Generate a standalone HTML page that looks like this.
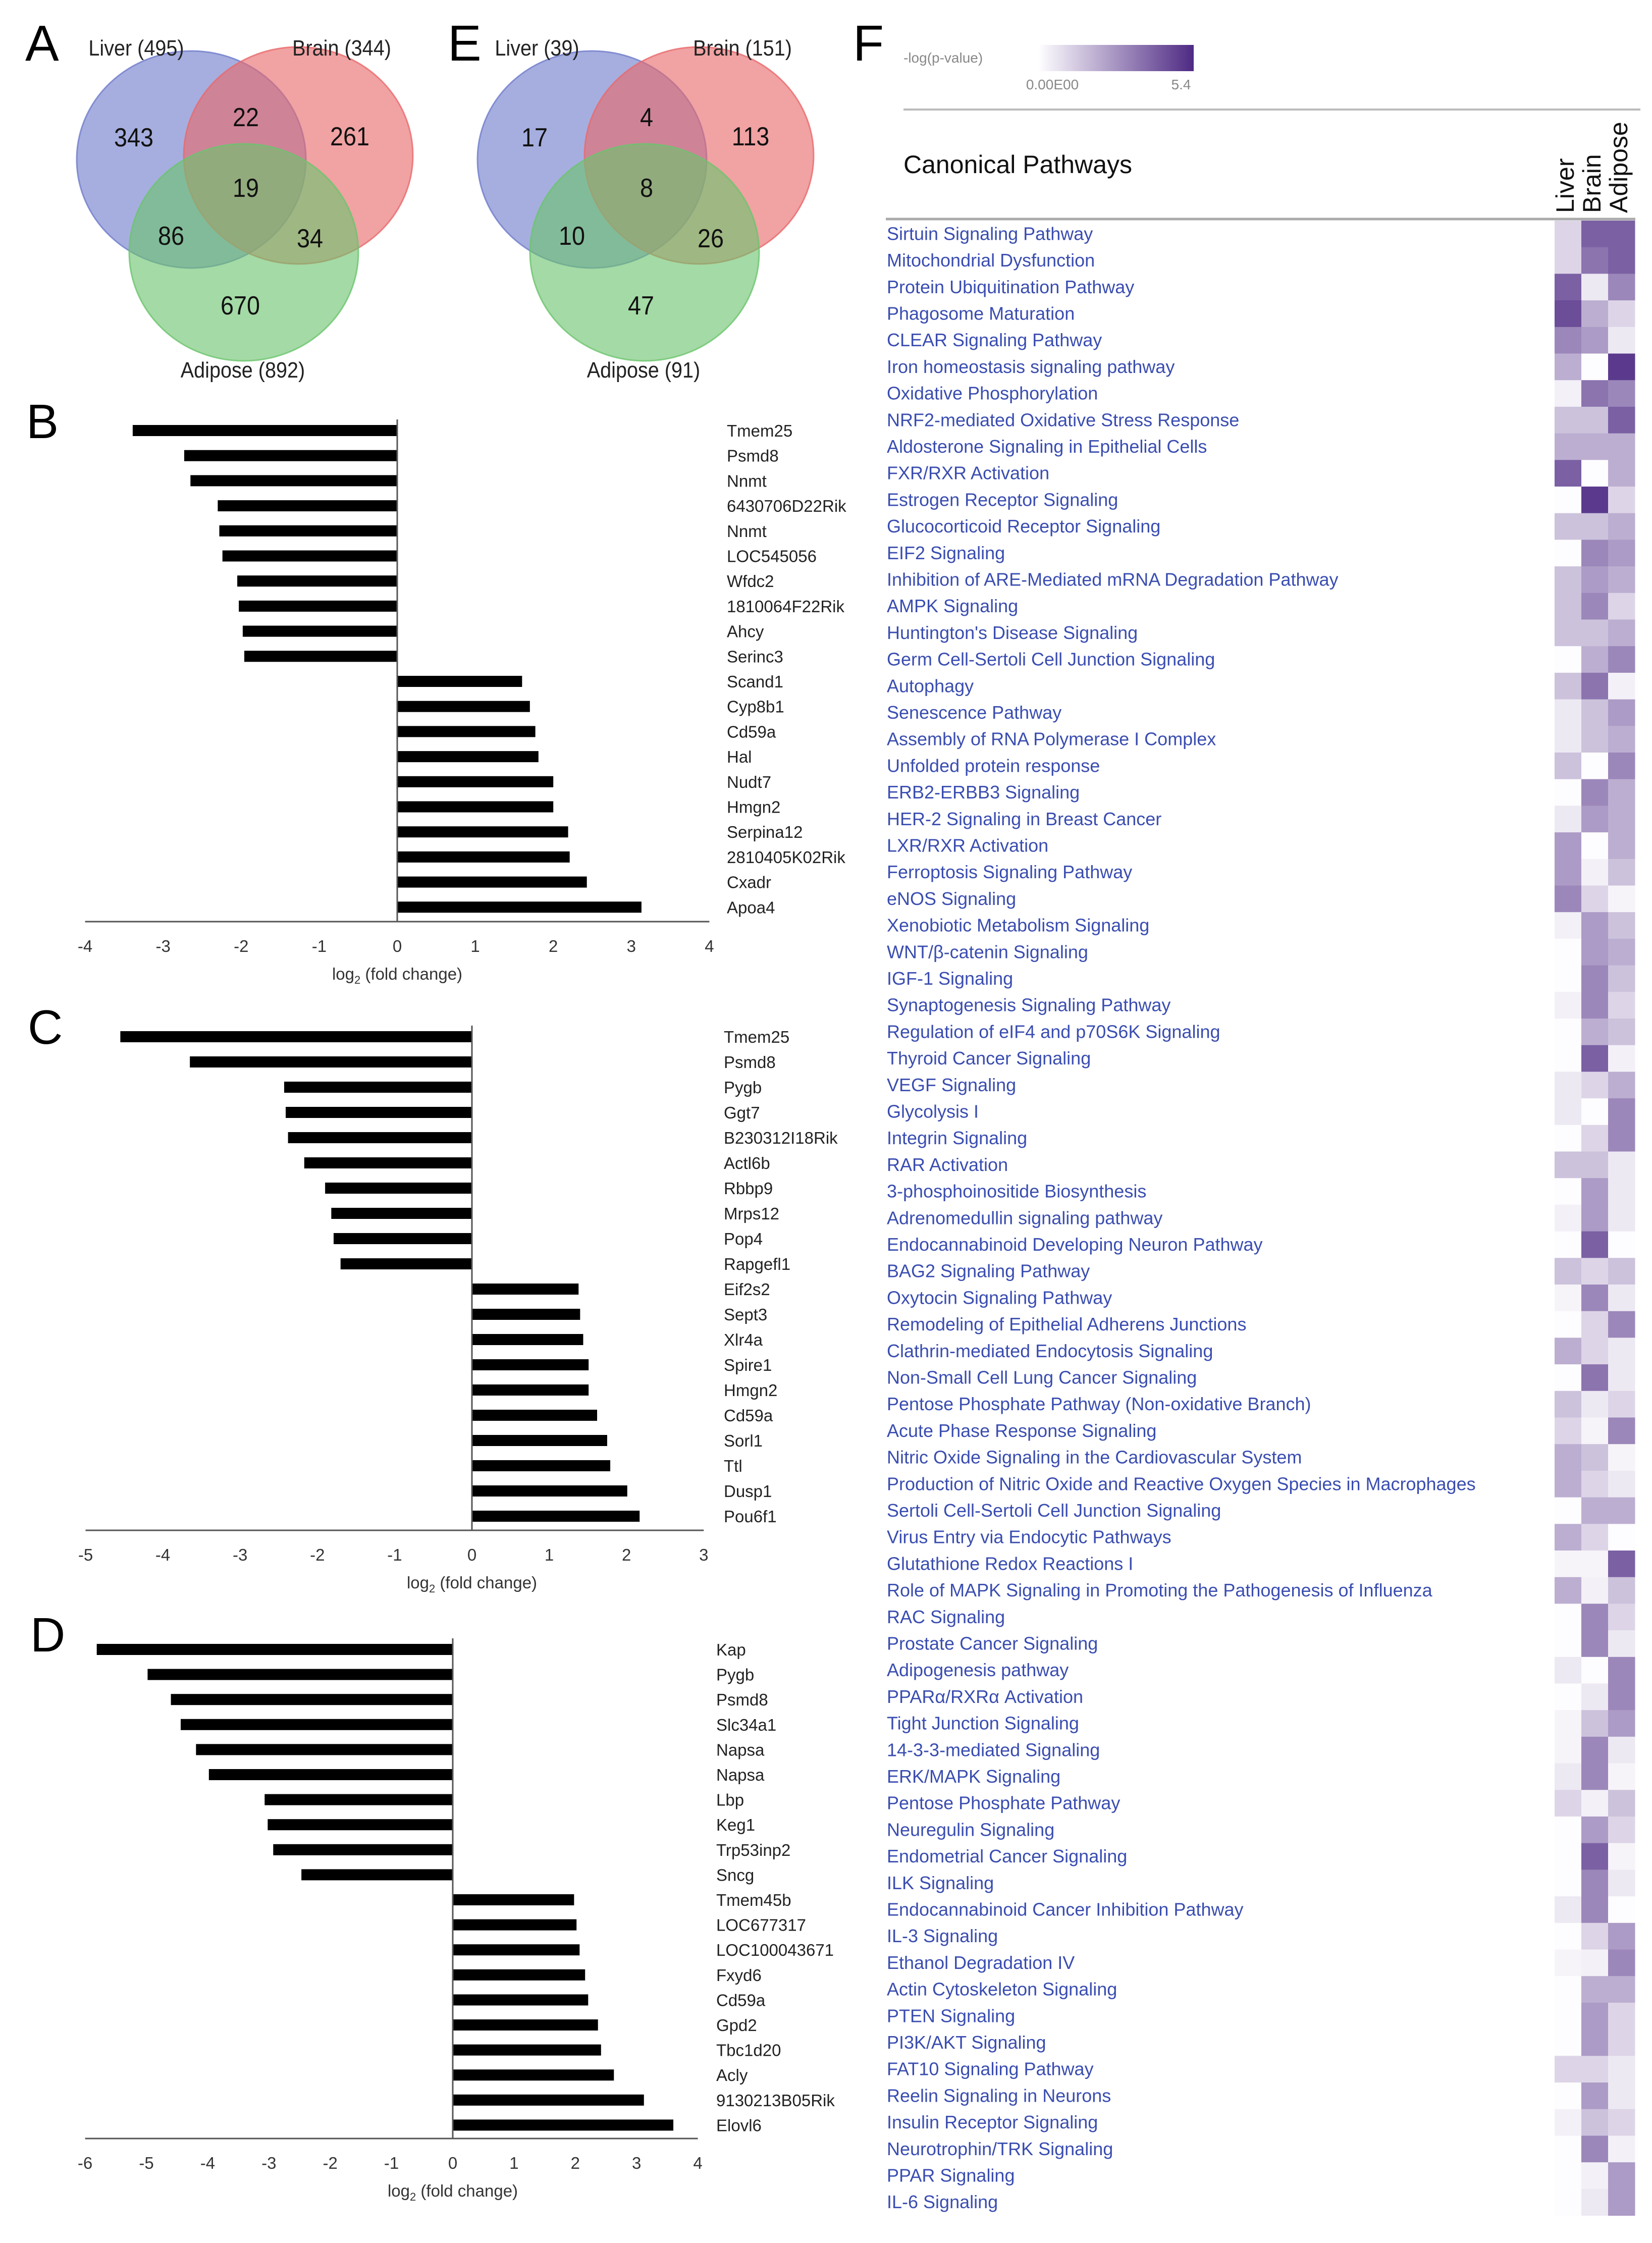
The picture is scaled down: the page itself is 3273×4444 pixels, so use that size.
<!DOCTYPE html>
<html><head><meta charset="utf-8"><style>
html,body{margin:0;padding:0;background:#fff;}
svg{display:block;font-family:"Liberation Sans",sans-serif;}
</style></head><body>
<svg id="fig" width="3273" height="4444" viewBox="0 0 3273 4444" xmlns="http://www.w3.org/2000/svg">
<rect width="3273" height="4444" fill="#fff"/>
<g id="venns"></g>
<g id="bars"></g>
<g id="heat"></g>
</svg>
<script>
// ---------- Venn data ----------
const vennA = ["343","22","261","19","86","34","670"];
const vennALabels = ["Liver (495)","Brain (344)","Adipose (892)"];
const vennE = ["17","4","113","8","10","26","47"];
const vennELabels = ["Liver (39)","Brain (151)","Adipose (91)"];

// ---------- Bar data ----------
const genesB = ["Tmem25","Psmd8","Nnmt","6430706D22Rik","Nnmt","LOC545056","Wfdc2","1810064F22Rik","Ahcy","Serinc3","Scand1","Cyp8b1","Cd59a","Hal","Nudt7","Hmgn2","Serpina12","2810405K02Rik","Cxadr","Apoa4"];
const valuesB = [-3.39,-2.73,-2.65,-2.3,-2.28,-2.24,-2.05,-2.03,-1.98,-1.96,1.6,1.7,1.77,1.81,2.0,2.0,2.19,2.21,2.43,3.13];
const ticksB = [-4,-3,-2,-1,0,1,2,3,4];
const genesC = ["Tmem25","Psmd8","Pygb","Ggt7","B230312I18Rik","Actl6b","Rbbp9","Mrps12","Pop4","Rapgefl1","Eif2s2","Sept3","Xlr4a","Spire1","Hmgn2","Cd59a","Sorl1","Ttl","Dusp1","Pou6f1"];
const valuesC = [-4.55,-3.65,-2.43,-2.41,-2.38,-2.17,-1.9,-1.82,-1.79,-1.7,1.38,1.4,1.44,1.51,1.51,1.62,1.75,1.79,2.01,2.17];
const ticksC = [-5,-4,-3,-2,-1,0,1,2,3];
const genesD = ["Kap","Pygb","Psmd8","Slc34a1","Napsa","Napsa","Lbp","Keg1","Trp53inp2","Sncg","Tmem45b","LOC677317","LOC100043671","Fxyd6","Cd59a","Gpd2","Tbc1d20","Acly","9130213B05Rik","Elovl6"];
const valuesD = [-5.81,-4.98,-4.6,-4.44,-4.19,-3.98,-3.07,-3.02,-2.93,-2.47,1.98,2.02,2.07,2.16,2.21,2.37,2.42,2.63,3.12,3.6];
const ticksD = [-6,-5,-4,-3,-2,-1,0,1,2,3,4];

// ---------- Heatmap data ----------
const pathways = ["Sirtuin Signaling Pathway","Mitochondrial Dysfunction","Protein Ubiquitination Pathway","Phagosome Maturation","CLEAR Signaling Pathway","Iron homeostasis signaling pathway","Oxidative Phosphorylation","NRF2-mediated Oxidative Stress Response","Aldosterone Signaling in Epithelial Cells","FXR/RXR Activation","Estrogen Receptor Signaling","Glucocorticoid Receptor Signaling","EIF2 Signaling","Inhibition of ARE-Mediated mRNA Degradation Pathway","AMPK Signaling","Huntington's Disease Signaling","Germ Cell-Sertoli Cell Junction Signaling","Autophagy","Senescence Pathway","Assembly of RNA Polymerase I Complex","Unfolded protein response","ERB2-ERBB3 Signaling","HER-2 Signaling in Breast Cancer","LXR/RXR Activation","Ferroptosis Signaling Pathway","eNOS Signaling","Xenobiotic Metabolism Signaling","WNT/β-catenin Signaling","IGF-1 Signaling","Synaptogenesis Signaling Pathway","Regulation of eIF4 and p70S6K Signaling","Thyroid Cancer Signaling","VEGF Signaling","Glycolysis I","Integrin Signaling","RAR Activation","3-phosphoinositide Biosynthesis","Adrenomedullin signaling pathway","Endocannabinoid Developing Neuron Pathway","BAG2 Signaling Pathway","Oxytocin Signaling Pathway","Remodeling of Epithelial Adherens Junctions","Clathrin-mediated Endocytosis Signaling","Non-Small Cell Lung Cancer Signaling","Pentose Phosphate Pathway (Non-oxidative Branch)","Acute Phase Response Signaling","Nitric Oxide Signaling in the Cardiovascular System","Production of Nitric Oxide and Reactive Oxygen Species in Macrophages","Sertoli Cell-Sertoli Cell Junction Signaling","Virus Entry via Endocytic Pathways","Glutathione Redox Reactions I","Role of MAPK Signaling in Promoting the Pathogenesis of Influenza","RAC Signaling","Prostate Cancer Signaling","Adipogenesis pathway","PPARα/RXRα Activation","Tight Junction Signaling","14-3-3-mediated Signaling","ERK/MAPK Signaling","Pentose Phosphate Pathway","Neuregulin Signaling","Endometrial Cancer Signaling","ILK Signaling","Endocannabinoid Cancer Inhibition Pathway","IL-3 Signaling","Ethanol Degradation IV","Actin Cytoskeleton Signaling","PTEN Signaling","PI3K/AKT Signaling","FAT10 Signaling Pathway","Reelin Signaling in Neurons","Insulin Receptor Signaling","Neurotrophin/TRK Signaling","PPAR Signaling","IL-6 Signaling"];
const tissues = ["Liver","Brain","Adipose"];
const liverVals = [1,1,4,4.5,3,2,0.3,1.5,2,4,0,1.5,0,1.5,1.5,1.5,0,1.5,0.5,0.5,1.5,0,0.5,2.5,2.5,3,0.3,0,0,0.3,0,0,0.5,0.5,0,1.5,0,0.3,0,1.5,0.2,0,2,0,1.5,1,2,2,0,2,0.2,2,0,0,0.5,0,0.2,0.2,0.5,1,0,0,0,0.5,0,0.2,0,0,0,1,0,0.3,0,0,0];
const brainVals = [4,3.5,0.5,2,2.5,0,3.5,1.5,2,0,5,1.5,3,2.5,3,1.5,2,3.5,1.5,1.5,0,3,2.5,0,0.3,1,2.5,2.5,3,3,2,4,1,0,1,1.5,2.5,2.5,4,1,3,1,1,3.5,0.5,0.2,1.5,1,2,1,0.2,0.3,3,3,0,0.5,1.5,3,3,0.3,2.5,4,3,3,1,0.3,2,2.5,2.5,1,2.5,1.5,3,0.3,0.5];
const adiposeVals = [4,4,3,1,0.5,5,3,4,2,2,1,2,2.5,2,1,2,3,0.3,2.5,2,3,2,2,2,1.5,0.2,1.5,2,1.5,1,1.5,0.3,2,3,3,0.5,0.5,0.5,0,1.5,0.5,3,0.5,0.5,1,3,0.2,0.5,2,0,4,1.5,1,0.5,3,3,2.5,0.5,0.2,1.5,1,0.2,0.5,0,2.5,3,2,1,1,0.5,0.5,1,0.3,2.5,2.5];
const maxVal = 5.4;

const NS = "http://www.w3.org/2000/svg";
function mk(parent, tag, attrs, text){
  const e = document.createElementNS(NS, tag);
  for (const k in attrs) e.setAttribute(k, attrs[k]);
  if (text !== undefined) e.textContent = text;
  parent.appendChild(e);
  return e;
}

// ---------- Venns ----------
const venns = document.getElementById('venns');
function drawVenn(letter, lx, cx, nums, labels, tag){
  const g = mk(venns, 'g', {});
  
  
  const L = mk(g, 'text', {x: lx, y: 120, 'font-size': 100, fill: '#000'}, letter);
  
  
  const circ = [[cx, 316, '#6f7ccc'], [cx + 212, 308, '#e8696b'], [cx + 104, 500, '#6cc46e']];
  const names = ['liver', 'brain', 'adipose'];
  circ.forEach((c, i) => {
    const e = mk(g, 'ellipse', {cx: c[0], cy: c[1], rx: 227, ry: 215, fill: c[2], 'fill-opacity': 0.62, stroke: c[2], 'stroke-opacity': 0.8, 'stroke-width': 3});
    
    
  });
  const lp = [[cx - 109, 110], [cx + 298, 110], [cx + 102, 748]];
  labels.forEach((t, i) => {
    const e = mk(g, 'text', {x: lp[i][0], y: lp[i][1], 'font-size': 44, 'text-anchor': 'middle', fill: '#222', transform: `translate(${lp[i][0]},0) scale(0.9,1) translate(${-lp[i][0]},0)`}, t);
    
    
  });
  const np = [[-114, 290], [108, 250], [314, 288], [108, 390], [-40, 485], [235, 490], [97, 623]];
  nums.forEach((t, i) => {
    const x = cx + np[i][0];
    const e = mk(g, 'text', {x: x, y: np[i][1], 'font-size': 52, 'text-anchor': 'middle', fill: '#111', transform: `translate(${x},0) scale(0.9,1) translate(${-x},0)`}, t);
    
    
  });
}
drawVenn('A', 50, 379, vennA, vennALabels, 'a');
drawVenn('E', 887, 1173, vennE, vennELabels, 'e');

// ---------- Bar charts ----------
const bars = document.getElementById('bars');
function drawBars(tag, letter, letterPos, genes, vals, ticks, zeroX, unit, firstY, pitch, axisY, labelX){
  const g = mk(bars, 'g', {});
  
  
  const xs = v => zeroX + v * unit;
  const L = mk(g, 'text', {x: letterPos[0], y: letterPos[1], 'font-size': 96, fill: '#000'}, letter);
  
  
  genes.forEach((gn, i) => {
    const y = firstY + i * pitch;
    const v = vals[i];
    const r = mk(g, 'rect', {x: Math.min(xs(0), xs(v)), y: y - 11, width: Math.abs(xs(v) - xs(0)), height: 22, fill: '#000'});
    
    
    const t = mk(g, 'text', {x: labelX, y: y + 12, 'font-size': 33, fill: '#222'}, gn);
    
    
  });
  const va = mk(g, 'line', {x1: xs(0), x2: xs(0), y1: firstY - 22, y2: axisY, stroke: '#555', 'stroke-width': 3});
  
  
  const xa = mk(g, 'line', {x1: xs(ticks[0]), x2: xs(ticks[ticks.length - 1]), y1: axisY, y2: axisY, stroke: '#555', 'stroke-width': 3});
  
  
  ticks.forEach(tk => {
    const t = mk(g, 'text', {x: xs(tk), y: axisY + 60, 'font-size': 33, 'text-anchor': 'middle', fill: '#333'}, String(tk));
    
    
  });
  const title = mk(g, 'text', {x: xs(0), y: axisY + 115, 'font-size': 33, 'text-anchor': 'middle', fill: '#333'});
  
  
  title.innerHTML = 'log<tspan font-size="22" dy="8">2</tspan><tspan dy="-8"> (fold change)</tspan>';
}
drawBars('b', 'B', [52, 868], genesB, valuesB, ticksB, 787, 154.6, 853, 49.7, 1826, 1440);
drawBars('c', 'C', [55, 2068], genesC, valuesC, ticksC, 935, 153.1, 2054, 50.0, 3032, 1434);
drawBars('d', 'D', [60, 3272], genesD, valuesD, ticksD, 897, 121.4, 3268, 49.6, 4237, 1419);

// ---------- Heatmap ----------
const heat = document.getElementById('heat');
function col(v){
  const t = Math.max(0, Math.min(1, v / maxVal));
  const a = [253, 252, 254], b = [78, 42, 132];
  return `rgb(${Math.round(a[0] + (b[0] - a[0]) * t)},${Math.round(a[1] + (b[1] - a[1]) * t)},${Math.round(a[2] + (b[2] - a[2]) * t)})`;
}
const fL = mk(heat, 'text', {x: 1690, y: 120, 'font-size': 100, fill: '#000'}, 'F');


const defs = mk(heat, 'defs', {});
const grad = mk(defs, 'linearGradient', {id: 'lg', x1: 0, x2: 1, y1: 0, y2: 0});
mk(grad, 'stop', {offset: 0, 'stop-color': col(0)});
mk(grad, 'stop', {offset: 1, 'stop-color': col(maxVal)});
const lb = mk(heat, 'rect', {x: 2060, y: 89, width: 305, height: 52, fill: 'url(#lg)'});


const lt = mk(heat, 'text', {x: 1790, y: 124, 'font-size': 28, fill: '#888'}, '-log(p-value)');


const l0 = mk(heat, 'text', {x: 2085, y: 177, 'font-size': 28, 'text-anchor': 'middle', fill: '#888'}, '0.00E00');


const l1 = mk(heat, 'text', {x: 2340, y: 177, 'font-size': 28, 'text-anchor': 'middle', fill: '#888'}, String(maxVal));


const tl = mk(heat, 'line', {x1: 1790, x2: 3250, y1: 217, y2: 217, stroke: '#bbb', 'stroke-width': 4});


const cp = mk(heat, 'text', {x: 1790, y: 343, 'font-size': 50, fill: '#111'}, 'Canonical Pathways');


const hl = mk(heat, 'line', {x1: 1755, x2: 3240, y1: 434, y2: 434, stroke: '#aaa', 'stroke-width': 5});


const colX = [3080, 3133, 3186];
const cw = 53, rowTop = 437, rowH = 52.7;
tissues.forEach((t, j) => {
  const x = colX[j] + 38;
  const e = mk(heat, 'text', {x: x, y: 422, 'font-size': 50, fill: '#111', transform: `rotate(-90 ${x} 422)`}, t);
  
  
});
const series = [liverVals, brainVals, adiposeVals];
pathways.forEach((p, i) => {
  const y = rowTop + i * rowH;
  const t = mk(heat, 'text', {x: 1757, y: y + rowH / 2 + 12, 'font-size': 36, fill: '#3a4db0'}, p);
  
  
  series.forEach((s, j) => {
    const r = mk(heat, 'rect', {x: colX[j], y: y, width: cw + 0.5, height: rowH + 0.5, fill: col(s[i])});
    
    
  });
});
</script>
</body></html>
